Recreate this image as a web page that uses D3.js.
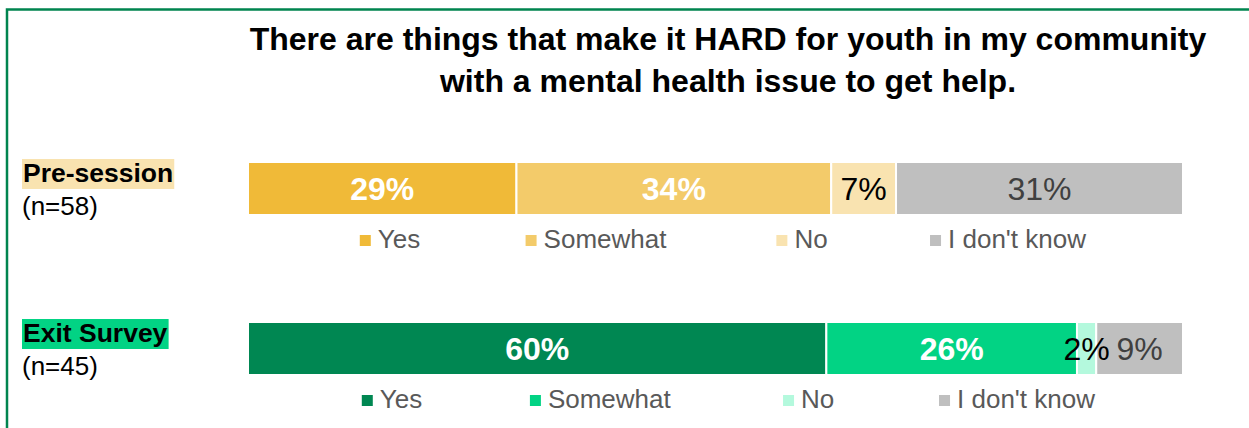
<!DOCTYPE html>
<html>
<head>
<meta charset="utf-8">
<script src="https://cdn.jsdelivr.net/npm/d3@7"></script>
<style>
  body { margin: 0; background: #fff; }
  svg text { font-family: Arial, "Liberation Sans", sans-serif; }
</style>
</head>
<body>
<div id="chart"></div>
<script>
// stacked 100% bars: pre-session vs exit survey answers

const titleLines = ["There are things that make it HARD for youth in my community",
                    "with a mental health issue to get help."];
const categories = ["Yes", "Somewhat", "No", "I don't know"];
const groups = ["Pre-session", "Exit Survey"];
const groupN = ["(n=58)", "(n=45)"];
const preValues = [29, 34, 7, 31];
const exitValues = [60, 26, 2, 9];

const preColors = ["#f0ba38", "#f3cb6a", "#f9e3b0", "#bfbfbf"];
const exitColors = ["#008752", "#02d384", "#b4f9dd", "#bfbfbf"];
const highlightColors = ["#f9e3b0", "#02d384"];
// label colours: white bold on dark segments, black / grey otherwise
const labelColors = ["#ffffff", "#ffffff", "#000000", "#404040"];
const labelBold = [true, true, false, false];

var width = 1249;
var height = 428;

const svg = d3.select("#chart")
    .append("svg")
    .attr("width", width)
    .attr("height", height);

// green frame (top and left side only visible)
svg.append("path")
    .attr("d", "M7,428 L7,9.5 L1249,9.5")
    .attr("fill", "none")
    .attr("stroke", "#00844f")
    .attr("stroke-width", 2.5);

// title
svg.selectAll(".title")
    .data(titleLines)
    .enter()
    .append("text")
    .attr("class", "title")
    .attr("x", 728)
    .attr("y", (d, i) => 50 + i * 42)
    .attr("text-anchor", "middle")
    .style("font-size", "32px")
    .style("font-weight", "bold")
    .attr("fill", "#000")
    .text(d => d);

const rows = [
    {name: groups[0], n: groupN[0], values: preValues, colors: preColors, top: 162, legend: [390, 1008]},
    {name: groups[1], n: groupN[1], values: exitValues, colors: exitColors, top: 322, legend: [392, 1017]}
];
const barHeight = 53;

rows.forEach(function(row, r) {
    const xScale = d3.scaleLinear()
        .domain([0, d3.sum(row.values)])
        .range([248, 1183]);

    let start = 0;
    const segs = row.values.map(function(v, i) {
        const s = {cat: categories[i], value: v, x0: start, x1: start + v, i: i};
        start += v;
        return s;
    });

    const g = svg.append("g");

    g.selectAll("rect")
        .data(segs)
        .enter()
        .append("rect")
        .attr("x", d => xScale(d.x0))
        .attr("y", row.top)
        .attr("width", d => xScale(d.x1) - xScale(d.x0))
        .attr("height", barHeight)
        .attr("fill", d => row.colors[d.i])
        .attr("stroke", "#ffffff")
        .attr("stroke-width", 2);

    g.selectAll(".lbl")
        .data(segs)
        .enter()
        .append("text")
        .attr("class", "lbl")
        .attr("x", d => (xScale(d.x0) + xScale(d.x1)) / 2)
        .attr("y", row.top + barHeight / 2 + 11.5)
        .attr("text-anchor", "middle")
        .style("font-size", "32px")
        .style("font-weight", d => labelBold[d.i] ? "bold" : "normal")
        .attr("fill", d => labelColors[d.i])
        .text(d => d.value + "%");

    // group label with highlight
    const nameText = svg.append("text")
        .attr("x", 23)
        .attr("y", row.top + 20)
        .style("font-size", "26.5px")
        .style("font-weight", "bold")
        .attr("fill", "#000")
        .text(row.name);
    const bb = nameText.node().getBBox();
    svg.insert("rect", "text")
        .attr("x", 22)
        .attr("y", row.top - 3)
        .attr("width", bb.width + 2)
        .attr("height", 30)
        .attr("fill", highlightColors[r]);

    svg.append("text")
        .attr("x", 22)
        .attr("y", row.top + 53)
        .style("font-size", "26px")
        .attr("fill", "#000")
        .text(row.n);

    // legend, entries centred in equal slots
    const legendX = d3.scalePoint()
        .domain(categories)
        .range(row.legend);
    const ly = row.top + 86;

    categories.forEach(function(c, i) {
        const t = svg.append("text")
            .attr("y", ly)
            .style("font-size", "26px")
            .attr("fill", "#595959")
            .text(c);
        const tw = t.node().getComputedTextLength();
        const total = 11 + 7 + tw;
        const left = legendX(c) - total / 2;
        t.attr("x", left + 18);
        svg.append("rect")
            .attr("x", left)
            .attr("y", ly - 13)
            .attr("width", 11)
            .attr("height", 11)
            .attr("fill", row.colors[i]);
    });
});
</script>
</body>
</html>
